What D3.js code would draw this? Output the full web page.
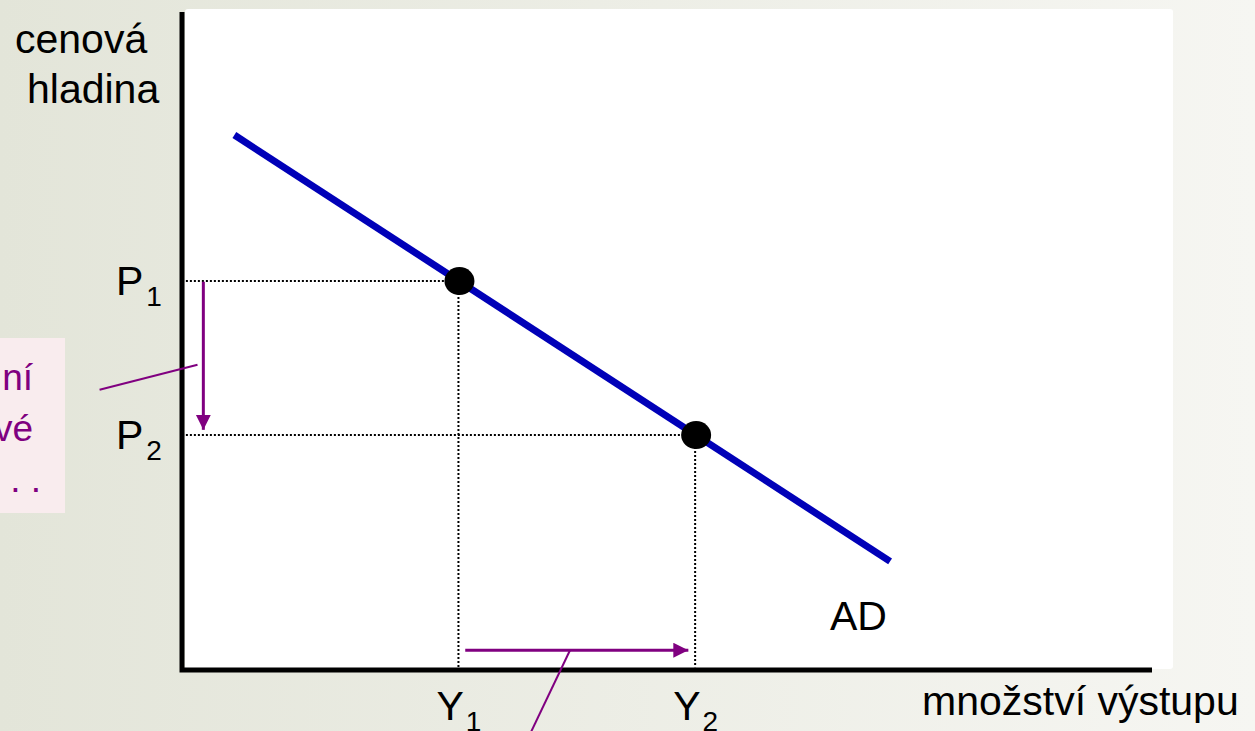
<!DOCTYPE html>
<html>
<head>
<meta charset="utf-8">
<script src="https://cdn.jsdelivr.net/npm/d3@7"></script>
<style>
    body { margin: 0; overflow: hidden; }
    text { font-family: "Liberation Sans", Arial, sans-serif; }
</style>
</head>
<body>
<div id="chart"></div>
<script>
// AD curve (quantity q, price level p) in arbitrary units
const adCurve = [{ q: 5.4, p: 81.3 }, { q: 73.0, p: 16.5 }];
const equilibria = [
    { sub: "1", q: 28.5, p: 59.1 },
    { sub: "2", q: 52.9, p: 35.7 }
];
const yTitleLines = ["cenová", "hladina"];
const xTitle = "množství výstupu";
const curveName = "AD";
const noteLines = ["ní", "vé", ". . ."];

// arrows: price falls P1 -> P2, output rises Y1 -> Y2
const priceArrow = [{ q: 2.2, p: 59.0 }, { q: 2.2, p: 36.5 }];
const outputArrow = [{ q: 29.2, p: 3.0 }, { q: 52.2, p: 3.0 }];
const noteLeaders = [
    [{ q: -8.5, p: 42.6 }, { q: 1.6, p: 46.4 }],
    [{ q: 40.0, p: 3.0 }, { q: 35.6, p: -10.6 }]
];

class ADChart {
    constructor(parentElement) {
        this.parentElement = parentElement;
        this.initVis();
    }

    initVis() {
        let vis = this;

        vis.width = 1255;
        vis.height = 731;

        vis.svg = d3.select("#" + vis.parentElement)
                    .append("svg")
                    .attr("width", vis.width)
                    .attr("height", vis.height);

        let defs = vis.svg.append("defs");
        let grad = defs.append("linearGradient")
                       .attr("id", "bg")
                       .attr("x1", 0).attr("x2", 1).attr("y1", 0).attr("y2", 0);
        grad.append("stop").attr("offset", 0).attr("stop-color", "#e3e5d9");
        grad.append("stop").attr("offset", 1).attr("stop-color", "#f6f6f2");

        defs.append("marker")
            .attr("id", "head")
            .attr("markerUnits", "userSpaceOnUse")
            .attr("markerWidth", 16)
            .attr("markerHeight", 16)
            .attr("refX", 15)
            .attr("refY", 7.5)
            .attr("orient", "auto")
            .append("path")
            .attr("d", "M0,0L15,7.5L0,15Z")
            .attr("fill", "#800080");

        vis.svg.append("rect")
               .attr("width", vis.width)
               .attr("height", vis.height)
               .attr("fill", "url(#bg)");

        vis.svg.append("rect")
               .attr("x", 185).attr("y", 9)
               .attr("width", 988).attr("height", 660)
               .attr("rx", 3)
               .attr("fill", "#ffffff");

        vis.svg.append("rect")
               .attr("x", 0).attr("y", 338)
               .attr("width", 65).attr("height", 175)
               .attr("fill", "#f9ecee");

        vis.x = d3.scaleLinear().domain([0, 100]).range([182, 1152]);
        vis.y = d3.scaleLinear().domain([0, 100]).range([670, 12]);

        vis.line = d3.line()
                     .x(d => vis.x(d.q))
                     .y(d => vis.y(d.p));

        vis.updateVis();
    }

    updateVis() {
        let vis = this;

        // dotted guides
        equilibria.forEach(d => {
            vis.svg.append("path")
                   .attr("d", vis.line([{ q: 0.4, p: d.p }, d]))
                   .attr("stroke", "#000")
                   .attr("stroke-width", 2)
                   .attr("stroke-dasharray", "2,2")
                   .attr("fill", "none");
            vis.svg.append("path")
                   .attr("d", vis.line([d, { q: d.q, p: 0.4 }]))
                   .attr("stroke", "#000")
                   .attr("stroke-width", 2)
                   .attr("stroke-dasharray", "2,2")
                   .attr("fill", "none");
        });

        // axes
        vis.svg.append("path")
               .attr("d", vis.line([{ q: 0, p: 100 }, { q: 0, p: 0 }, { q: 100, p: 0 }]))
               .attr("stroke", "#000")
               .attr("stroke-width", 5)
               .attr("fill", "none");

        // AD curve
        vis.svg.append("path")
               .attr("d", vis.line(adCurve))
               .attr("stroke", "#0000b8")
               .attr("stroke-width", 7)
               .attr("fill", "none");

        vis.svg.selectAll(".pt")
               .data(equilibria)
               .enter()
               .append("ellipse")
               .attr("class", "pt")
               .attr("cx", d => vis.x(d.q) + 1)
               .attr("cy", d => vis.y(d.p))
               .attr("rx", 15)
               .attr("ry", 14)
               .attr("fill", "#000");

        // arrows and leader lines
        [priceArrow, outputArrow].forEach(a => {
            vis.svg.append("path")
                   .attr("d", vis.line(a))
                   .attr("stroke", "#800080")
                   .attr("stroke-width", 3)
                   .attr("fill", "none")
                   .attr("marker-end", "url(#head)");
        });
        noteLeaders.forEach(a => {
            vis.svg.append("path")
                   .attr("d", vis.line(a))
                   .attr("stroke", "#800080")
                   .attr("stroke-width", 2)
                   .attr("fill", "none");
        });

        // labels
        vis.svg.selectAll(".ytitle")
               .data(yTitleLines)
               .enter()
               .append("text")
               .attr("x", (d, i) => 15 + i * 12)
               .attr("y", (d, i) => 53 + i * 50)
               .style("font-size", "41px")
               .text(d => d);

        vis.svg.append("text")
               .attr("x", 922)
               .attr("y", 715)
               .style("font-size", "41px")
               .text(xTitle);

        vis.svg.append("text")
               .attr("x", 830)
               .attr("y", 630)
               .style("font-size", "41px")
               .text(curveName);

        equilibria.forEach(d => {
            let pl = vis.svg.append("text")
                            .attr("x", 116)
                            .attr("y", vis.y(d.p) + 14)
                            .style("font-size", "41px");
            pl.append("tspan").text("P");
            pl.append("tspan").attr("dx", 3).attr("dy", 11).style("font-size", "28px").text(d.sub);

            let yl = vis.svg.append("text")
                            .attr("x", vis.x(d.q) - 22)
                            .attr("y", 720)
                            .style("font-size", "41px");
            yl.append("tspan").text("Y");
            yl.append("tspan").attr("dx", 2).attr("dy", 11).style("font-size", "28px").text(d.sub);
        });

        vis.svg.selectAll(".note")
               .data(noteLines)
               .enter()
               .append("text")
               .attr("x", (d, i) => i === 2 ? 41 : 33)
               .attr("y", (d, i) => 390 + i * 51)
               .attr("text-anchor", "end")
               .attr("fill", "#800080")
               .style("font-size", "37px")
               .text(d => d);
    }
}

new ADChart("chart");
</script>
</body>
</html>
